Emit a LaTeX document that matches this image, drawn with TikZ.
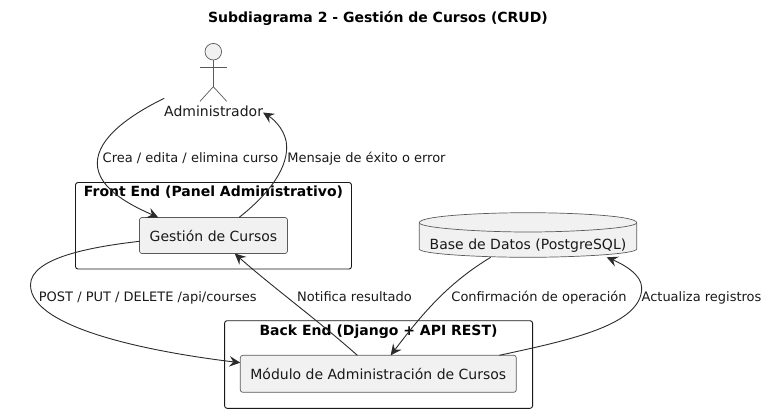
\documentclass[tikz,border=0pt]{standalone}
\usepackage{fontspec}
\setmainfont{DejaVu Sans}
\usetikzlibrary{arrows.meta}
\definecolor{boxfill}{HTML}{F1F1F1}
\definecolor{boxline}{HTML}{5A5A5A}
\definecolor{linecol}{HTML}{2B2B2B}
\tikzset{
	txt/.style={inner sep=0pt, outer sep=0pt, text height=10pt, text depth=3pt, text=black!90},
	edgetxt/.style={txt, font=\fontsize{13}{15}\selectfont},
	titletxt/.style={txt, text=black, font=\fontsize{14}{16}\selectfont\bfseries},
	frame/.style={draw=black!90, line width=0.9pt, rounded corners=2.5pt, inner sep=0pt, outer sep=0pt},
	comp/.style={draw=boxline, line width=0.7pt, fill=boxfill, rounded corners=2.5pt, inner sep=0pt, outer sep=0pt, text=black!90, font=\fontsize{14}{16}\selectfont},
	conn/.style={draw=linecol, line width=0.9pt, -{Stealth[length=11pt, width=10.5pt, inset=4pt]}},
	actorline/.style={draw=boxline, line width=0.7pt},
}
\begin{document}
\begin{tikzpicture}[x=1pt, y=-1pt]
	\useasboundingbox (0, 0) rectangle (768, 413);
	\node[titletxt] (title) at (378, 19) {Subdiagrama 2 - Gestión de Cursos (CRUD)};
	\node[frame, minimum width=276, minimum height=86.5] (frontend) at (213.5, 225.75) {};
	\node[frame, minimum width=308, minimum height=87.6] (backend) at (378.6, 364.5) {};
	\node[titletxt] (frontendtitle) at (213.5, 192.5) {Front End (Panel Administrativo)};
	\node[titletxt] (backendtitle) at (378.5, 331.5) {Back End (Django + API REST)};
	\node[comp, minimum width=148, minimum height=36] (gestion) at (213.5, 235.5) {Gestión de Cursos};
	\node[comp, minimum width=276, minimum height=37] (modulo) at (378.3, 373.8) {Módulo de Administración de Cursos};
	% actor
	\node[circle, actorline, fill=boxfill, minimum size=16.6, inner sep=0pt, outer sep=0pt] (head) at (213.3, 51.7) {};
	\coordinate (hip) at (213.3, 86.7);
	\coordinate (armleft) at (200, 67);
	\coordinate (armright) at (226.7, 67);
	\coordinate (footleft) at (200, 101.3);
	\coordinate (footright) at (226.7, 101.3);
	\draw[actorline] (head.south) to (hip);
	\draw[actorline] (armleft) to (armright);
	\draw[actorline] (footleft) to (hip) to (footright);
	\node[txt, font=\fontsize{14}{16}\selectfont] (admin) at (213.6, 112.5) {Administrador};
	% database
	\node[minimum width=217.4, minimum height=44.6, inner sep=0pt, outer sep=0pt] (db) at (528, 235) {};
	\draw[actorline, fill=boxfill] (db.west |- 0, 222.7)
		.. controls (db.west |- 0, 216) and (480, 212.7) .. (db.north)
		.. controls (576, 212.7) and (db.east |- 0, 216) .. (db.east |- 0, 222.7)
		-- (db.east |- 0, 249)
		.. controls (db.east |- 0, 254) and (576, 257.3) .. (db.south)
		.. controls (480, 257.3) and (db.west |- 0, 254) .. (db.west |- 0, 249)
		-- cycle;
	\draw[actorline] (db.west |- 0, 222.7)
		.. controls (db.west |- 0, 228) and (480, 232) .. (528, 232)
		.. controls (576, 232) and (db.east |- 0, 228) .. (db.east |- 0, 222.7);
	\node[txt, font=\fontsize{14}{16}\selectfont] (dbtext) at (528, 246) {Base de Datos (PostgreSQL)};
	% connectors
	\draw[conn] (admin.west |- 0, 98.3) .. controls (130, 115) and (97.3, 138) .. (97.3, 163.3)
		.. controls (97.3, 190) and (135, 207) .. ([xshift=-55.2]gestion.north);
	\draw[conn] ([xshift=25.5]gestion.north) .. controls (265, 197) and (286.7, 172) .. (286.7, 147)
		.. controls (286.7, 132) and (275, 120) .. (admin.east);
	\draw[conn] ([yshift=-5.8]gestion.west) .. controls (90, 247) and (30.5, 258) .. (30.5, 285)
		.. controls (30.5, 330) and (160, 353) .. ([yshift=11.1]modulo.west);
	\draw[conn] ([xshift=-21]modulo.north) .. controls (320, 322) and (270, 285) .. ([xshift=21.2]gestion.south);
	\draw[conn] ([xshift=-37.3]db.south) .. controls (450, 282) and (425, 310) .. ([xshift=12.4]modulo.north);
	\draw[conn] ([xshift=121]modulo.north) .. controls (570, 340) and (641.7, 325) .. (641.7, 288)
		.. controls (641.7, 275) and (625, 265) .. ([xshift=78.7]db.south);
	% labels
	\node[edgetxt] (crea) at (190.5, 158.5) {Crea / edita / elimina curso};
	\node[edgetxt] (mensaje) at (366.5, 158.5) {Mensaje de éxito o error};
	\node[edgetxt] (post) at (147.7, 297.5) {POST / PUT / DELETE /api/courses};
	\node[edgetxt] (notifica) at (354.5, 297.5) {Notifica resultado};
	\node[edgetxt] (confirma) at (539, 297.5) {Confirmación de operación};
	\node[edgetxt] (actualiza) at (701.5, 297.5) {Actualiza registros};
\end{tikzpicture}
\end{document}
